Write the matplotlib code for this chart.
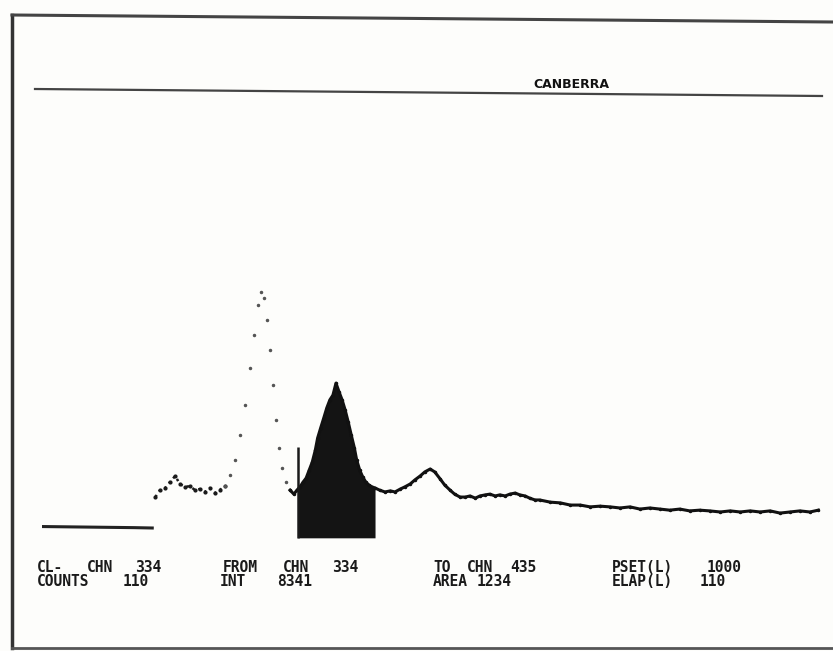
import matplotlib.pyplot as plt

# spectrum (channel, counts)
low_channels = [0, 40, 80, 120, 144]
low_counts = [4, 3, 2, 1, 0]

channels = [148, 154, 161, 167, 174, 180, 187, 193, 200, 206, 213, 219, 226, 232, 239,
            246, 252, 259, 265, 272, 277, 282, 286, 290, 294, 298, 302, 306, 310, 313,
            319, 324, 329, 333,
            337, 341, 345, 349, 353, 357, 360, 364, 368, 372, 376, 380, 384, 388, 392,
            396, 400, 404, 408, 411, 415, 419, 423, 427, 431, 435,
            441, 448, 455, 461, 468, 474, 481, 487, 494, 500, 507, 513, 520, 526, 533,
            539, 546, 553, 559, 566, 572, 579, 585, 592, 598, 605, 611, 618, 624, 631,
            637, 644, 650, 664, 677, 690, 703, 716, 729, 742, 755, 768, 781, 794, 807,
            820, 833, 846, 859, 872, 886, 899, 912, 925, 938, 951, 964, 977, 990, 1003,
            1014]
counts = [85, 104, 110, 126, 143, 121, 113, 115, 104, 107, 99, 110, 96, 104, 115,
          146, 187, 255, 338, 440, 530, 613, 648, 632, 571, 489, 393, 297, 220, 165,
          126, 104, 93, 104,
          113, 126, 137, 159, 181, 214, 247, 275, 302, 330, 352, 365, 398, 374, 352,
          324, 291, 255, 220, 187, 159, 140, 126, 118, 113, 110,
          104, 99, 102, 99, 107, 113, 121, 132, 143, 154, 162, 154, 135, 118, 104,
          93, 85, 85, 88, 82, 88, 91, 93, 88, 91, 88, 93, 96, 91, 88,
          82, 77, 77, 71, 69, 63, 63, 58, 60, 58, 55, 58, 52, 55, 52,
          49, 52, 47, 49, 47, 44, 47, 44, 47, 44, 47, 41, 44, 47, 44,
          49]

peak_lo, peak_hi = 239, 324      # steep peak drawn as loose dots
roi_lo, roi_hi = 334, 435        # marked region of interest
cursor_ch = 334
cursor_top = 222

row1 = [("CL-", 37), ("CHN", 87), ("334", 135), ("FROM", 223), ("CHN", 283), ("334", 332),
        ("TO", 433), ("CHN", 467), ("435", 510), ("PSET(L)", 612), ("1000", 707)]
row2 = [("COUNTS", 37), ("110", 123), ("INT", 220), ("8341", 277), ("AREA", 433),
        ("1234", 477), ("ELAP(L)", 612), ("110", 700)]

fig = plt.figure(figsize=(8.33, 6.51), dpi=100)
fig.patch.set_facecolor('#fdfdfb')

# screen frame, header rule and status text in pixel coordinates
bg = fig.add_axes([0, 0, 1, 1])
bg.set_xlim(0, 833)
bg.set_ylim(651, 0)
bg.axis('off')
bg.plot([12, 12], [15, 648], color='#333333', lw=2.5)
bg.plot([12, 833], [15, 22], color='#444444', lw=2.2)
bg.plot([12, 833], [648, 648], color='#555555', lw=2.0)
bg.plot([35, 822], [89, 96], color='#444444', lw=1.6)
bg.text(571, 85, "CANBERRA", ha='center', va='center', fontsize=9,
        family='DejaVu Sans', weight='bold', color='#111111')
for label, x in row1:
    bg.text(x, 567, label, ha='left', va='center', fontsize=10.5,
            family='DejaVu Sans Mono', weight='bold', color='#1a1a1a')
for label, x in row2:
    bg.text(x, 582, label, ha='left', va='center', fontsize=10.5,
            family='DejaVu Sans Mono', weight='bold', color='#1a1a1a')

# spectrum
ax = fig.add_axes([42 / 833, 106 / 651, 783.2 / 833, 445 / 651])
ax.set_xlim(0, 1023)
ax.set_ylim(-46.7, 1175.8)
ax.axis('off')
ax.patch.set_alpha(0)

ax.plot(low_channels, low_counts, color='#222222', lw=2.2)

left = [(c, n) for c, n in zip(channels, counts) if c <= peak_lo]
peak = [(c, n) for c, n in zip(channels, counts) if peak_lo <= c <= peak_hi]
right = [(c, n) for c, n in zip(channels, counts) if c >= peak_hi]

ax.plot(*zip(*left), color='#1a1a1a', lw=1.8, marker='.', ms=4, ls=':')
ax.plot(*zip(*peak), color='#555555', lw=0, marker='.', ms=3)
ax.plot(*zip(*right), color='#111111', lw=2.2, marker='.', ms=3)

roi_ch = [c for c in channels if roi_lo <= c <= roi_hi]
roi_n = [n for c, n in zip(channels, counts) if roi_lo <= c <= roi_hi]
ax.fill_between([roi_lo] + roi_ch + [roi_hi], -27, [roi_n[0]] + roi_n + [roi_n[-1]],
                color='#141414', lw=0)
ax.vlines(cursor_ch, -27, cursor_top, color='#1a1a1a', lw=1.8)

fig.savefig('out.png', dpi=100, facecolor=fig.get_facecolor())
